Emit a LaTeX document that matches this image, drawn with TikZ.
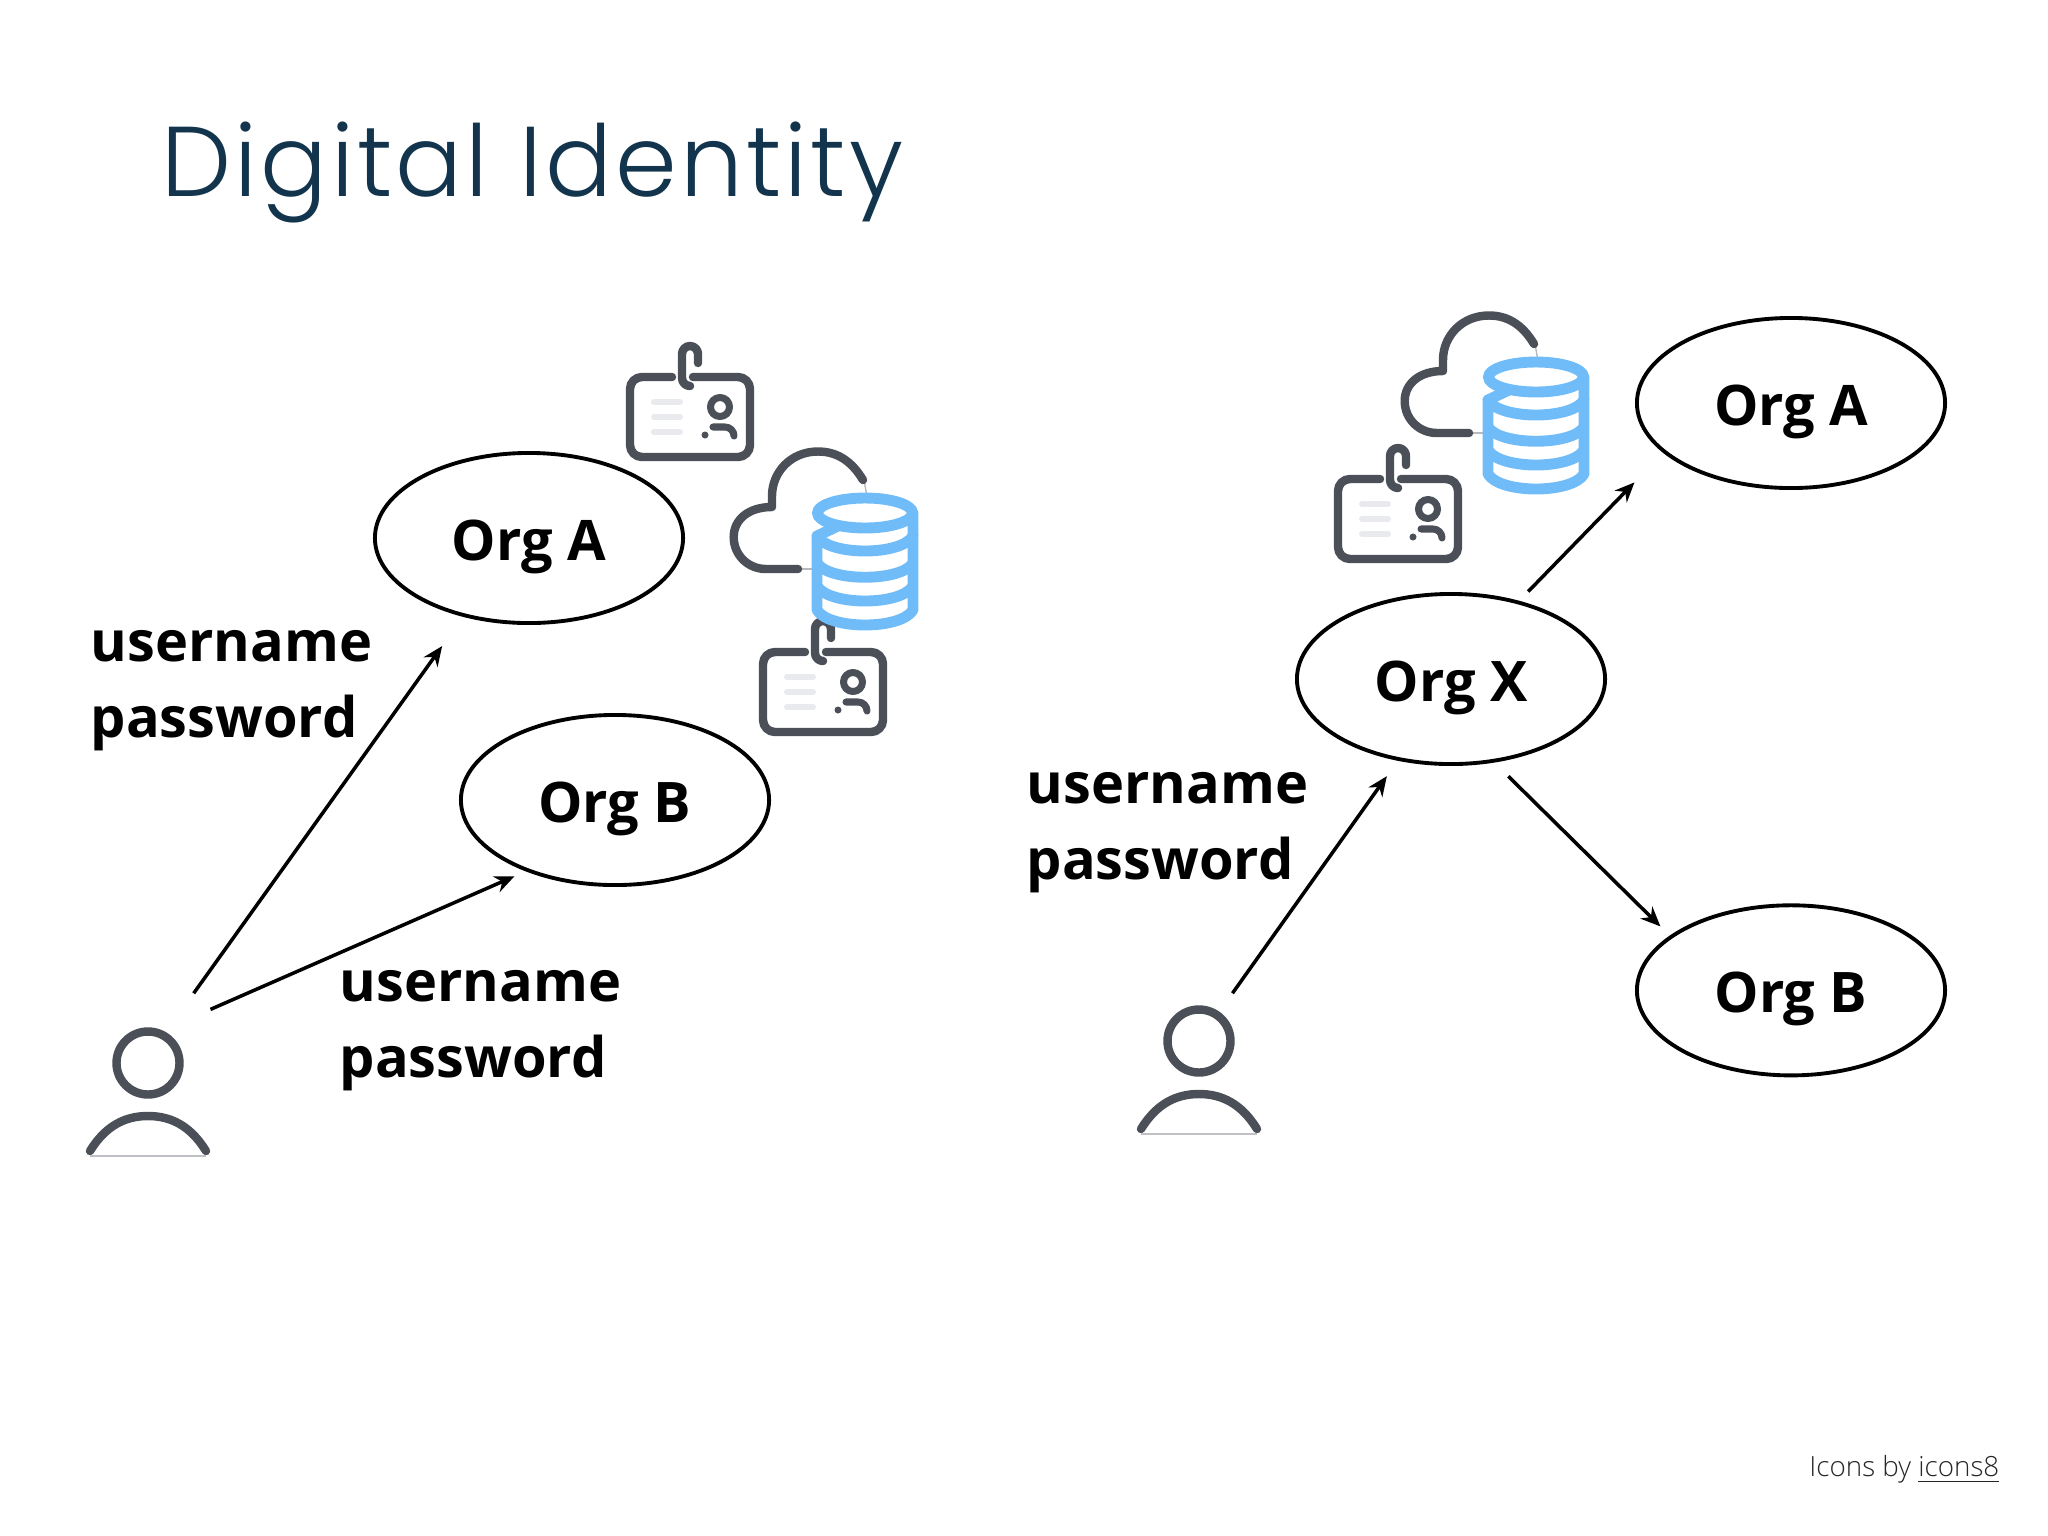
\documentclass[tikz,border=0pt]{standalone}
\usepackage{fontspec}
\usetikzlibrary{shapes.geometric, arrows.meta}
\setmainfont{Open Sans}
\newfontfamily\titlefont[LetterSpace=3.3]{Poppins Light}
\newfontfamily\creditfont{Open Sans Light}
\definecolor{iconGray}{HTML}{4B4F58}
\definecolor{dbBlue}{HTML}{70BCF9}
\definecolor{rowGray}{HTML}{E9EAEE}
\definecolor{titleBlue}{HTML}{12344D}
\tikzset{
  stroke/.style={draw=iconGray, line width=2.4pt, line cap=round, line join=round},
  thin stroke/.style={draw=iconGray!40, line width=.4pt},
  idcard/.pic={
    \draw[stroke, rounded corners=.12cm] (47,5) -- (5,5) -- (5,85) -- (125,85) -- (125,5) -- (68,5);
    \draw[stroke, rounded corners=.08cm] (73,-9) -- (73,-26) -- (57,-26) -- (57,14) -- (64,14);
    \foreach \rowy in {30,45,60}
      \draw[rowGray, line width=1.7pt, line cap=round] (29,\rowy) -- (55,\rowy);
    \draw[stroke, line width=2pt] (95,35) circle [radius=9.5];
    \draw[stroke, line width=2pt] (88,55) -- (100,55) .. controls (105,55) and (109,59) .. (109,64);
    \fill[iconGray] (80,63) circle [radius=3.5];
  },
  clouddb/.pic={
    \draw[thin stroke] (135,33) -- (138,50);
    \draw[thin stroke] (69,122) -- (88,122);
    \draw[stroke] (134,33) .. controls (122,13) and (107,4.5) .. (89,4.5)
      .. controls (62,4.5) and (43,25) .. (43,49) -- (43,60)
      .. controls (19,60) and (4.7,73) .. (4.7,90)
      .. controls (4.7,108) and (19,122) .. (37,122) -- (69,122);
    \draw[dbBlue, fill=white, line width=3.1pt, line cap=round, line join=round]
      (88,89) -- (88,163) .. controls (100,183) and (172,183) .. (184,163) -- (184,66) -- (136,66) -- cycle;
    \draw[dbBlue, fill=white, line width=3.1pt] (136,66) ellipse [x radius=47.5, y radius=15];
    \draw[dbBlue, line width=3.1pt, line cap=round] (88,89) .. controls (100,109) and (172,109) .. (184,89);
    \draw[dbBlue, line width=3.1pt] (88,116) .. controls (100,135) and (172,135) .. (184,116);
    \draw[dbBlue, line width=3.1pt] (88,139) .. controls (100,159) and (172,159) .. (184,139);
  },
  usericon/.pic={
    \draw[stroke] (0,0) circle [radius=31.5];
    \draw[stroke] (-58,88) .. controls (-42,62) and (-22,53) .. (0,53) .. controls (22,53) and (42,62) .. (58,88);
    \draw[iconGray!35, line width=.6pt] (-58,93) -- (58,93);
  }
}
\begin{document}
\begin{tikzpicture}[x=0.01cm, y=-0.01cm]
    \tikzstyle{org} = [ellipse, draw, line width=1.1pt, inner sep=0pt, outer sep=0pt, minimum width=3.08cm, minimum height=1.7cm, font=\fontsize{15.9pt}{21.5pt}\bfseries\selectfont, text centered, text height=12.6pt, text depth=0pt]
    \tikzstyle{cred} = [anchor=west, align=left, inner sep=0pt, font=\fontsize{15.9pt}{21.6pt}\bfseries\selectfont]
    \tikzstyle{user} = [inner sep=0pt, outer sep=0pt, minimum width=1.25cm, minimum height=1.29cm]
    \tikzstyle{link} = [->, >={Stealth[length=5.6pt, width=4.8pt]}, line width=1pt]

    \useasboundingbox (0,0) rectangle (2048,1536);

    % Title and credit
    \node[anchor=base west, inner sep=0pt, text=titleBlue, font=\fontsize{28.2pt}{34pt}\titlefont\selectfont] (title) at (161,196) {Digital Identity};
    \node[anchor=base east, inner sep=0pt, text=black!85, font=\fontsize{7.9pt}{9pt}\creditfont\selectfont] (credit) at (2000,1476) {Icons by \underline{icons8}};

    % Icons
    \pic at (625,372) {idcard};
    \pic at (1333,474) {idcard};
    \pic at (758,647) {idcard};
    \pic at (729,447) {clouddb};
    \pic at (1400,311) {clouddb};
    \pic at (148,1063) {usericon};
    \pic at (1199,1041) {usericon};

    % Nodes
    \node[org] (orgAL) at (529,538) {Org A};
    \node[org] (orgBL) at (615,800) {Org B};
    \node[org] (orgX) at (1451,679) {Org X};
    \node[org] (orgAR) at (1791,403) {Org A};
    \node[org] (orgBR) [below of=orgAR, node distance=5.87cm] {Org B};
    \node[user] (userL) at (147,1092) {};
    \node[user] (userR) at (1199,1070) {};
    \node[cred] (credA) at (90,691) {username\\password};
    \node[cred] (credB) at (339,1031) {username\\password};
    \node[cred] (credX) at (1026,833) {username\\password};

    % Edges
    \draw[link, shorten <=.42cm, shorten >=.38cm] (userL.71) -- (orgAL.230);
    \draw[link, shorten <=.45cm, shorten >=.15cm] (userL.71) -- (orgBL.219);
    \draw[link, shorten <=.15cm, shorten >=.21cm] (userR.69) -- (orgX.237);
    \draw[link, shorten <=.15cm, shorten >=.43cm] (orgX.49) -- (orgAR.201);
    \draw[link, shorten <=.22cm, shorten >=.15cm] (orgX.297) -- (orgBR.156);
\end{tikzpicture}
\end{document}
